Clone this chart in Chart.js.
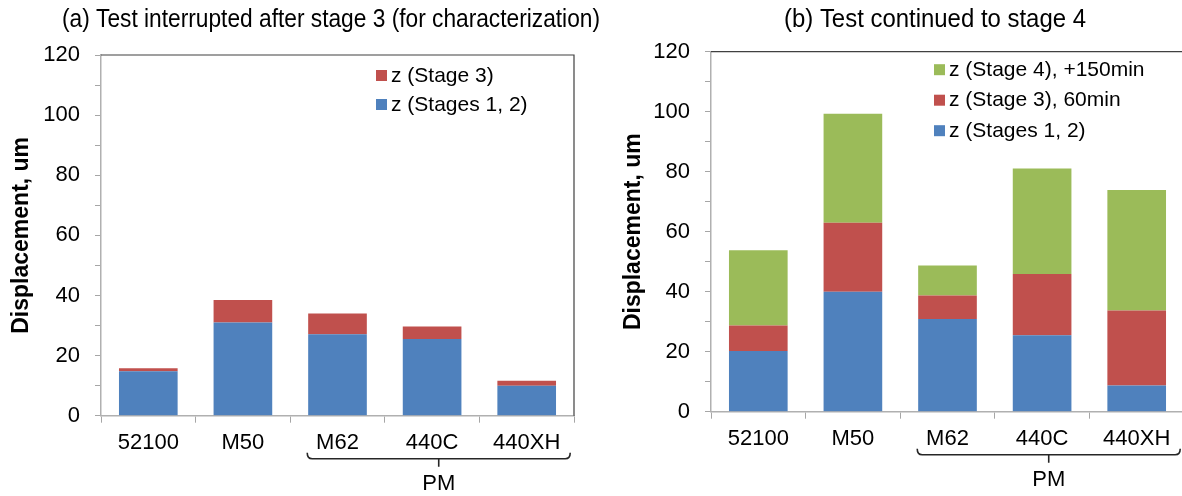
<!DOCTYPE html>
<html>
<head>
<meta charset="utf-8">
<script src="https://cdn.jsdelivr.net/npm/chart.js@4/dist/chart.umd.min.js"></script>
<style>
  html, body { margin: 0; padding: 0; background: #fff; overflow: hidden; }
  #wrap { position: relative; width: 1182px; height: 496px; overflow: hidden; }
  .panel { position: absolute; top: 0; height: 496px; }
</style>
</head>
<body>
<div id="wrap">
  <div class="panel" style="left:0;width:612px"><canvas id="graphA" width="612" height="496"></canvas></div>
  <div class="panel" style="left:591px;width:593px"><canvas id="graphB" width="593" height="496"></canvas></div>
</div>
<script>
/*------------------------------*/
/*           DONNEES            */
/*------------------------------*/
var categories = ['52100', 'M50', 'M62', '440C', '440XH']
var yTicks = [0, 20, 40, 60, 80, 100, 120]

// (a) interrupted after stage 3
var a_stages12 = [14.8, 31.0, 27.1, 25.5, 10.0]
var a_stage3 = [1.0, 7.5, 6.9, 4.2, 1.6]

// (b) continued to stage 4
var b_stages12 = [20.2, 40.0, 30.9, 25.5, 8.7]
var b_stage3 = [8.5, 23.0, 7.8, 20.4, 25.0]
var b_stage4 = [25.1, 36.3, 10.0, 35.2, 40.2]

var BLUE = '#4F81BD'
var RED = '#C0504D'
var GREEN = '#9BBB59'
var FONT = "'Liberation Sans', Arial, sans-serif"

/*------------------------------*/
/*     titres, legende, PM      */
/*------------------------------*/
var extras = {
  id: 'extras',
  afterDraw: function (chart, args, opts) {
    var ctx = chart.ctx
    var area = chart.chartArea
    var x = chart.scales.x
    ctx.save()

    // cadre haut / droite
    ctx.strokeStyle = '#404040'
    ctx.lineWidth = 1.2
    ctx.beginPath()
    ctx.moveTo(area.left, area.top)
    ctx.lineTo(area.right, area.top)
    ctx.lineTo(area.right, area.bottom)
    ctx.stroke()

    // titre
    ctx.fillStyle = '#000'
    ctx.font = '25px ' + FONT
    ctx.textAlign = 'center'
    ctx.textBaseline = 'middle'
    ctx.fillText(opts.title, opts.titleX, 20, opts.titleW)

    // legende (ordre inverse)
    ctx.font = '21px ' + FONT
    ctx.textAlign = 'left'
    var ds = chart.data.datasets
    for (var i = ds.length - 1, k = 0; i >= 0; i--, k++) {
      var ly = area.top + opts.legTop + k * opts.legStep
      var lx = area.left + opts.legLeft
      ctx.fillStyle = ds[i].backgroundColor
      ctx.fillRect(lx, ly - 6, 11, 11)
      ctx.fillStyle = '#000'
      ctx.fillText(ds[i].label, lx + 15, ly)
    }

    // accolade PM
    var catW = (area.right - area.left) / categories.length
    var x0 = x.getPixelForValue(2) - 0.32 * catW
    var x1 = x.getPixelForValue(4) + 0.46 * catW
    var xm = (x0 + x1) / 2
    var by = area.bottom + 43
    ctx.strokeStyle = '#262626'
    ctx.lineWidth = 1.6
    ctx.beginPath()
    ctx.moveTo(x0, by - 6)
    ctx.quadraticCurveTo(x0, by, x0 + 5, by)
    ctx.lineTo(x1 - 5, by)
    ctx.quadraticCurveTo(x1, by, x1, by - 6)
    ctx.moveTo(xm, by)
    ctx.lineTo(xm, by + 8)
    ctx.stroke()
    ctx.font = '22px ' + FONT
    ctx.textAlign = 'center'
    ctx.fillText('PM', xm, by + 25)
    ctx.restore()
  }
}

function makeOptions(o) {
  return {
    responsive: false,
    animation: false,
    layout: { padding: { top: o.top, right: o.right, left: 0, bottom: 0 } },
    plugins: {
      legend: { display: false },
      title: { display: false },
      tooltip: { enabled: false },
      extras: o.extras
    },
    scales: {
      x: {
        stacked: true,
        afterFit: function (s) { s.height = o.xHeight },
        grid: { offset: true, drawOnChartArea: false, tickLength: 7, color: '#a6a6a6' },
        border: { color: '#b0b0b0', width: 1.5 },
        ticks: { color: '#000', font: { family: FONT, size: 22 }, padding: 7, maxRotation: 0, autoSkip: false }
      },
      y: {
        stacked: true,
        min: 0,
        max: 120,
        afterFit: function (s) { s.width = o.yWidth },
        grid: { drawOnChartArea: false, tickLength: 6, color: '#a6a6a6' },
        border: { color: '#b0b0b0', width: 1.5 },
        ticks: {
          stepSize: 10,
          padding: 15,
          color: '#000',
          font: { family: FONT, size: 22 },
          callback: function (v) { return yTicks.indexOf(v) >= 0 ? v : '' }
        },
        title: {
          display: true,
          text: 'Displacement, um',
          color: '#000',
          font: { family: FONT, size: 23, weight: 'bold' },
          padding: { top: o.yTitlePad, bottom: 0 }
        }
      }
    }
  }
}

/*------------------------------*/
/*          GRAPHIQUE A         */
/*------------------------------*/
var ctx_a = document.getElementById('graphA').getContext('2d')
var graphA = new Chart(ctx_a, {
  type: 'bar',
  data: {
    labels: categories,
    datasets: [
      { label: 'z (Stages 1, 2)', data: a_stages12, backgroundColor: BLUE, barPercentage: 0.62, categoryPercentage: 1 },
      { label: 'z (Stage 3)', data: a_stage3, backgroundColor: RED, barPercentage: 0.62, categoryPercentage: 1 }
    ]
  },
  options: makeOptions({
    top: 55, right: 38, xHeight: 80.3, yWidth: 101, yTitlePad: 8,
    extras: {
      title: '(a) Test interrupted after stage 3 (for characterization)',
      titleX: 331, titleW: 538,
      legLeft: 275, legTop: 21, legStep: 29
    }
  }),
  plugins: [extras]
})

/*------------------------------*/
/*          GRAPHIQUE B         */
/*------------------------------*/
var ctx_b = document.getElementById('graphB').getContext('2d')
var graphB = new Chart(ctx_b, {
  type: 'bar',
  data: {
    labels: categories,
    datasets: [
      { label: 'z (Stages 1, 2)', data: b_stages12, backgroundColor: BLUE, barPercentage: 0.62, categoryPercentage: 1 },
      { label: 'z (Stage 3), 60min', data: b_stage3, backgroundColor: RED, barPercentage: 0.62, categoryPercentage: 1 },
      { label: 'z (Stage 4), +150min', data: b_stage4, backgroundColor: GREEN, barPercentage: 0.62, categoryPercentage: 1 }
    ]
  },
  options: makeOptions({
    top: 51.7, right: 0, xHeight: 84.3, yWidth: 120, yTitlePad: 28.7,
    extras: {
      title: '(b) Test continued to stage 4',
      titleX: 344, titleW: 302,
      legLeft: 223, legTop: 18.5, legStep: 30.5
    }
  }),
  plugins: [extras]
})
</script>
</body>
</html>
